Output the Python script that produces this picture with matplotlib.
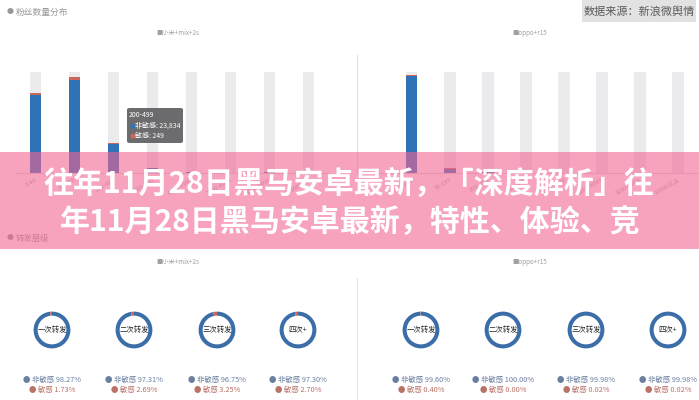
import matplotlib
matplotlib.use("Agg")
import matplotlib.pyplot as plt
from matplotlib.patches import Rectangle, FancyBboxPatch

plt.rcParams["font.family"] = ["Noto Sans CJK SC", "DejaVu Sans"]

W, H = 699, 400

# data
fan_bins = ["0-49", "50-199", "200-499", "500-999", "1000-1999", "2000-4999", "5000-9999", "10000以上"]
mi_normal = [63000, 75500, 23834, 4200, 600, 300, 900, 200]
mi_sensitive = [1600, 2100, 249, 80, 20, 10, 30, 5]
mi_max = 82000
oppo_normal = [47700, 2200, 300, 100, 60, 30, 20, 10]
oppo_sensitive = [200, 20, 5, 0, 0, 0, 0, 0]
oppo_max = 49500

levels = ["一次转发", "二次转发", "三次转发", "四次+"]
mi_pct_normal = [98.27, 97.31, 96.75, 97.30]
mi_pct_sens = [1.73, 2.69, 3.25, 2.70]
oppo_pct_normal = [99.60, 100.00, 99.98, 99.98]
oppo_pct_sens = [0.40, 0.00, 0.02, 0.02]

BLUE = "#2f72b6"
RED = "#c8675a"
DBLUE = "#3b6ea8"
BG = "#ebebee"


def fx(x):
    return x / W


def fy(y):
    return 1 - y / H


fig = plt.figure(figsize=(W / 100, H / 100), dpi=100)
fig.patch.set_facecolor("white")


def txt(x, y, s, size, color, ha="left", zorder=5, **kw):
    fig.text(fx(x), fy(y), s, fontsize=size, color=color, ha=ha, va="center", zorder=zorder, **kw)


def bar_panel(left, right, top, bottom, xmin, normal, sens, ymax, spine):
    ax = fig.add_axes([fx(left), fy(bottom), fx(right) - fx(left), fy(top) - fy(bottom)])
    x = range(len(fan_bins))
    ax.bar(x, [ymax] * len(fan_bins), width=0.29, color=BG, zorder=1)
    ax.bar(x, normal, width=0.29, color=BLUE, zorder=2)
    ax.bar(x, sens, bottom=normal, width=0.29, color=RED, zorder=2)
    ax.set_xlim(xmin, 7.5)
    ax.set_ylim(0, ymax * 118 / 101)
    ax.set_yticks([])
    ax.set_xticks(list(x))
    ax.set_xticklabels(fan_bins, rotation=30, ha="right", rotation_mode="anchor",
                       fontsize=4.3, color="#aaaaaa")
    ax.tick_params(axis="x", length=0, pad=3)
    for s in ["top", "right"]:
        ax.spines[s].set_visible(False)
    ax.spines["left"].set_visible(spine)
    ax.spines["left"].set_color("#e2e2e2")
    ax.spines["bottom"].set_color("#dddddd")
    ax.set_facecolor("none")
    return ax


bar_panel(16, 328, 55, 173, -0.5, mi_normal, mi_sensitive, mi_max, False)
bar_panel(357, 697, 55, 173, -1.447, oppo_normal, oppo_sensitive, oppo_max, True)

# headers
txt(7, 12, "●", 5, "#999999")
txt(16, 12, "粉丝数量分布", 6.3, "#9a9a9a")
txt(178, 33, "■小米+mix+2s", 4.5, "#a0a0a0", ha="center")
txt(530, 33, "■oppo+r15", 4.5, "#a0a0a0", ha="center")
fig.add_artist(Rectangle((fx(582), fy(22)), fx(696) - fx(582), fy(0) - fy(22),
                         transform=fig.transFigure, facecolor="#e2e2e2", edgecolor="none", zorder=4))
txt(639, 11, "数据来源：新浪微舆情", 8, "#5a5a5a", ha="center")

# tooltip
fig.add_artist(FancyBboxPatch((fx(127), fy(143)), fx(183) - fx(127), fy(108) - fy(143),
                              boxstyle="round,pad=0,rounding_size=0.004", transform=fig.transFigure,
                              facecolor="#5f5f62", edgecolor="none", alpha=0.92, zorder=4))
txt(129, 115, "200-499", 5, "white")
txt(129, 126, "■", 4, "#2f72b6")
txt(135, 126, "非敏感: 23,834", 5, "white")
txt(129, 136, "■", 4, RED)
txt(135, 136, "敏感: 249", 5, "white")

# bottom panel
txt(7, 238, "●", 5, "#999999")
txt(16, 238, "转发层级", 6, "#9a9a9a")
txt(178, 262, "■小米+mix+2s", 4.5, "#a0a0a0", ha="center")
txt(530, 262, "■oppo+r15", 4.5, "#a0a0a0", ha="center")
fig.add_artist(plt.Line2D([fx(357), fx(357)], [fy(278), fy(400)], transform=fig.transFigure,
                          color="#e6e6e6", lw=0.8))

R = 23


def donuts(centers, normal, sens):
    for cx, lab, n, s in zip(centers, levels, normal, sens):
        ax = fig.add_axes([fx(cx - R), fy(330 + R), fx(2 * R), fx(2 * R) * W / H])
        ax.pie([n, s], colors=[DBLUE, RED], startangle=90, counterclock=False,
               wedgeprops=dict(width=0.22, edgecolor="none"))
        ax.set_aspect("equal")
        ax.text(0, 0, lab, ha="center", va="center", fontsize=5.3, color="#222222")
        txt(cx, 380, f"● 非敏感 {n:.2f}%", 5.3, "#6a7fa0", ha="center")
        txt(cx, 390, f"● 敏感 {s:.2f}%", 5.3, "#b87266", ha="center")


donuts([52, 134, 217, 298], mi_pct_normal, mi_pct_sens)
donuts([421, 503, 586, 668], oppo_pct_normal, oppo_pct_sens)

# pink banner
fig.add_artist(Rectangle((0, fy(249)), 1, fy(152) - fy(249), transform=fig.transFigure,
                         facecolor=(242 / 255, 102 / 255, 147 / 255), alpha=0.6,
                         edgecolor="none", zorder=20))
txt(349, 184, "往年11月28日黑马安卓最新，「深度解析」往", 21.6, "white", ha="center",
    zorder=21, fontweight="bold")
txt(350, 222, "年11月28日黑马安卓最新，特性、体验、竞", 21.6, "white", ha="center",
    zorder=21, fontweight="bold")

fig.savefig("out.png", dpi=100, facecolor="white")
